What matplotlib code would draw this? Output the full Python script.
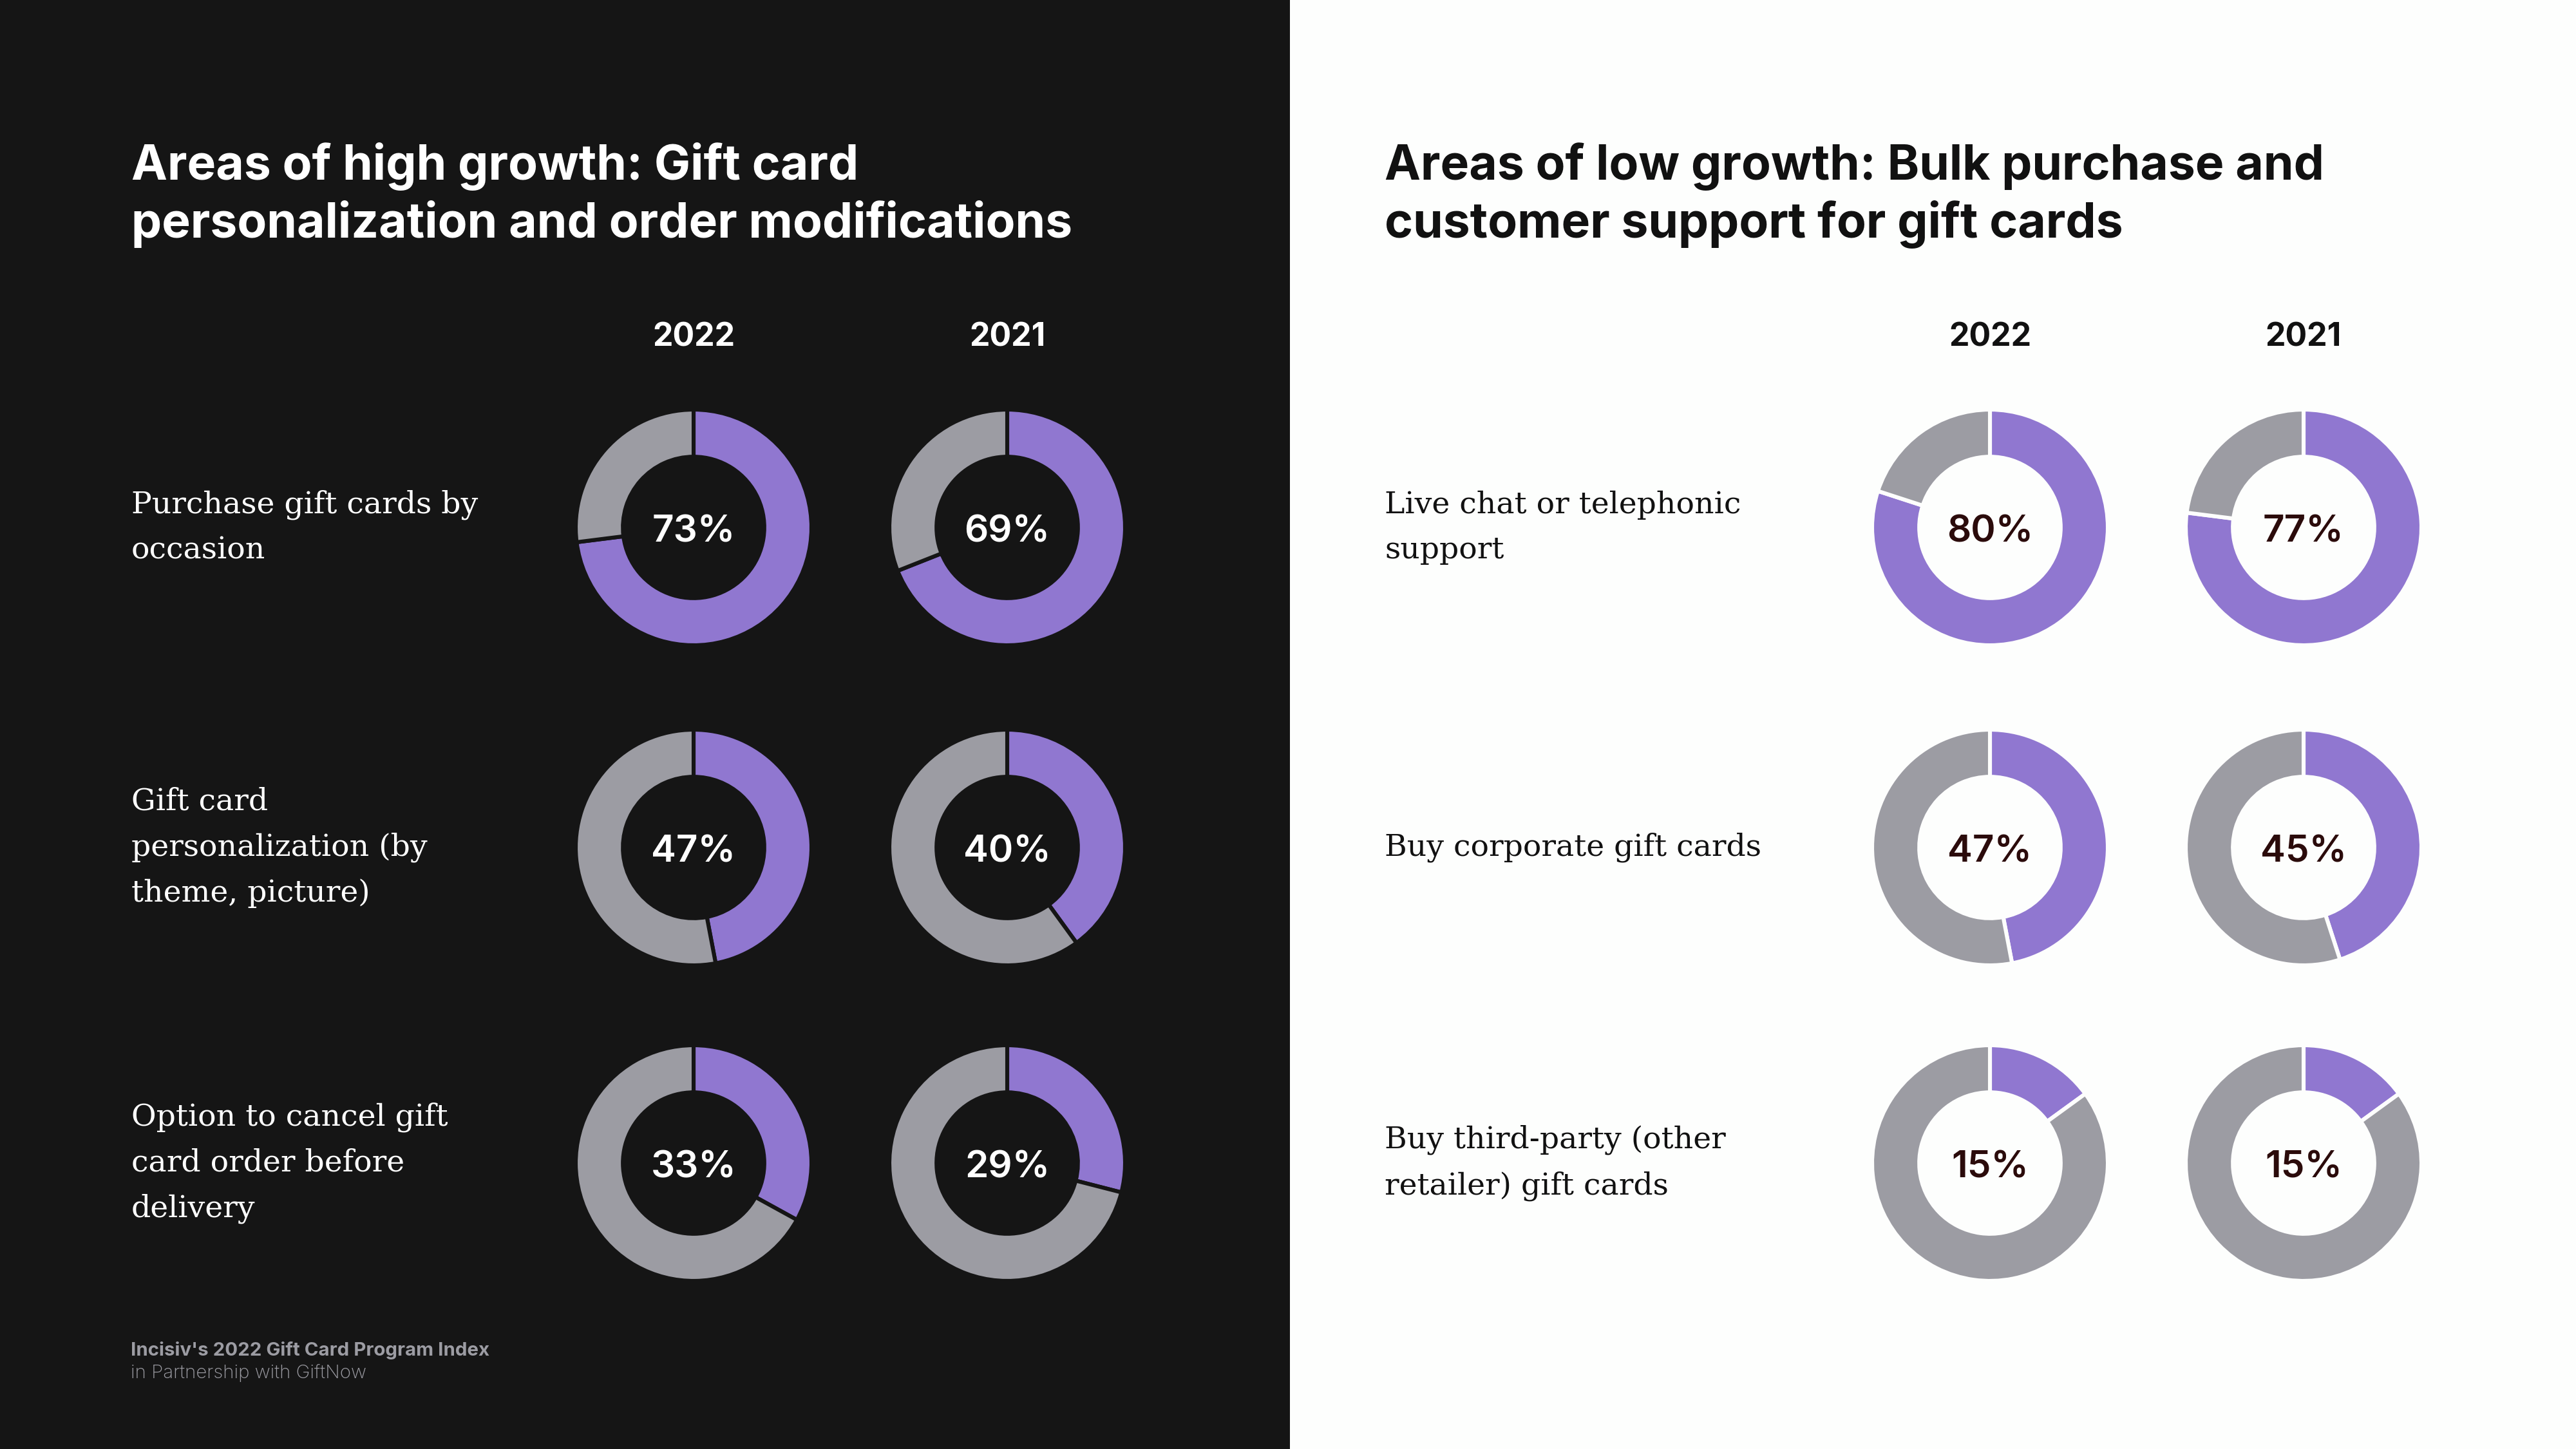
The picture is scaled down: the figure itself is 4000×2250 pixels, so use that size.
import matplotlib.pyplot as plt
from matplotlib.patches import Rectangle

# data
years = ["2022", "2021"]
left_title = ["Areas of high growth: Gift card",
              "personalization and order modifications"]
left_labels = ["Purchase gift cards by\noccasion",
               "Gift card\npersonalization (by\ntheme, picture)",
               "Option to cancel gift\ncard order before\ndelivery"]
left_2022 = [73, 47, 33]
left_2021 = [69, 40, 29]

right_title = ["Areas of low growth: Bulk purchase and",
               "customer support for gift cards"]
right_labels = ["Live chat or telephonic\nsupport",
                "Buy corporate gift cards",
                "Buy third-party (other\nretailer) gift cards"]
right_2022 = [80, 47, 15]
right_2021 = [77, 45, 15]

footer_1 = "Incisiv's 2022 Gift Card Program Index"
footer_2 = "in Partnership with GiftNow"

W, H = 4000, 2250
DARK = '#151515'
LIGHT = '#FDFEFD'
PURPLE = '#9077D0'
GRAY = '#9C9CA3'
SANS = ['Inter', 'DejaVu Sans']
SERIF = ['DejaVu Serif']

fig = plt.figure(figsize=(20, 11.25), dpi=200)
fig.patch.set_facecolor(LIGHT)
fig.add_artist(Rectangle((0, 0), 2003 / W, 1, transform=fig.transFigure,
                         facecolor=DARK, edgecolor='none', zorder=0))


def fx(x):
    return x / W


def fy(y):
    return 1 - y / H


R_PX = 183
BOX_PX = 420


def donut(cx, cy, value, bg, txt_color):
    ax = fig.add_axes([fx(cx - BOX_PX / 2), fy(cy + BOX_PX / 2),
                       BOX_PX / W, BOX_PX / H])
    ax.pie([value, 100 - value], colors=[PURPLE, GRAY], startangle=90,
           counterclock=False, radius=1,
           wedgeprops=dict(width=0.4, edgecolor=bg, linewidth=2.2))
    lim = BOX_PX / (2 * R_PX)
    ax.set_xlim(-lim, lim)
    ax.set_ylim(-lim, lim)
    ax.set_aspect('equal')
    ax.axis('off')
    ax.text(0, -0.04, f"{value}%", ha='center', va='center', fontsize=21,
            fontweight='semibold', color=txt_color, family=SANS)


def panel(x0, cols, title, labels, v22, v21, bg, fg, val_color):
    fig.text(fx(x0), fy(279), title[0], fontsize=27, fontweight='bold',
             color=fg, family=SANS, va='baseline')
    fig.text(fx(x0), fy(369), title[1], fontsize=27, fontweight='bold',
             color=fg, family=SANS, va='baseline')
    for cx, yr in zip(cols, years):
        fig.text(fx(cx), fy(524), yr, fontsize=18, fontweight='bold',
                 color=fg, family=SANS, ha='center', va='center')
    rows = [819, 1316, 1806]
    for cy, lab, a, b in zip(rows, labels, v22, v21):
        fig.text(fx(x0), fy(cy), lab, fontsize=17, color=fg, family=SERIF,
                 ha='left', va='center', linespacing=1.7)
        donut(cols[0], cy, a, bg, val_color)
        donut(cols[1], cy, b, bg, val_color)


panel(204, [1077, 1564], left_title, left_labels, left_2022, left_2021,
      DARK, 'white', 'white')
panel(2150, [3090, 3577], right_title, right_labels, right_2022, right_2021,
      LIGHT, '#111111', '#2B0B0B')

fig.text(fx(203), fy(2105), footer_1, fontsize=10.6, fontweight='bold',
         color=GRAY, family=SANS, va='baseline')
fig.text(fx(203), fy(2140), footer_2, fontsize=10.6, fontweight='light',
         color=GRAY, family=SANS, va='baseline')

fig.savefig('out.png', dpi=200, facecolor=fig.get_facecolor())
